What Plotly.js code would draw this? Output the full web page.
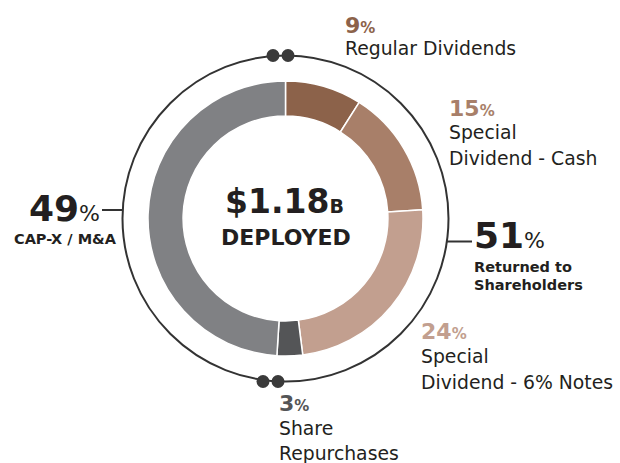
<!DOCTYPE html>
<html><head><meta charset="utf-8">
<script src="https://cdn.plot.ly/plotly-3.0.1.min.js"></script>
<style>html,body{margin:0;padding:0;background:#fff}</style>
</head><body><div id="chart" style="width:620px;height:463px"></div>
<script>
// ---- data ----
const categories = ["Regular Dividends", "Special Dividend - Cash", "Special Dividend - 6% Notes", "Share Repurchases", "CAP-X / M&A"];
const values = [9, 15, 24, 3, 49];
const labelLines = [["Regular Dividends"], ["Special", "Dividend - Cash"], ["Special", "Dividend - 6% Notes"], ["Share", "Repurchases"]];
const totalText = "$1.18";
const totalUnit = "B";
const centerWord = "DEPLOYED";
const groupLeftLabel = "CAP-X / M&A";
const groupRightLabel = ["Returned to", "Shareholders"];

// ---- styles ----
const sliceColors = ["#8c624a", "#a87f69", "#c29f8f", "#545557", "#808184"];
const W = 620, H = 463;
const FONT = "DejaVu Sans";
const ink = "#231f20";
const cx = 285.5, cy = 218.5, R = 137.5, outerR = 163;
const px = x => x / W, py = y => 1 - y / H;

const annotations = [];
function ann(text, x, baseline, size, xanchor, color) {
  annotations.push({
    text: text, xref: "paper", yref: "paper", x: px(x), y: py(baseline - 0.346 * size),
    xanchor: xanchor, yanchor: "middle", showarrow: false, borderpad: 0,
    font: {family: FONT, size: size, color: color || ink}
  });
}
function pctText(v, big, small, boldPct) {
  const p = boldPct ? "<b>%</b>" : "%";
  return "<b>" + v + "</b><span style='font-size:" + small + "px'>" + p + "</span>";
}

// center
ann("<b>" + totalText + "</b><span style='font-size:19px'><b>" + totalUnit + "</b></span>", 284, 213, 33, "center");
ann("<b>" + centerWord + "</b>", 285.5, 245, 22, "center");

// group totals
const returned = values.slice(0, 4).reduce((a, b) => a + b, 0);
const capx = values[4];
ann(pctText(capx, 36, 22, false), 101, 221, 36, "right");
ann("<b>" + groupLeftLabel + "</b>", 118, 244, 14.5, "right");
ann(pctText(returned, 36, 22, false), 473, 248, 36, "left");
ann("<b>" + groupRightLabel[0] + "</b>", 473, 272, 14.5, "left");
ann("<b>" + groupRightLabel[1] + "</b>", 473, 290, 14.5, "left");

// segment labels
const labelPos = [
  {x: 344, pct: 33, lines: [55]},
  {x: 448, pct: 116, lines: [139, 165]},
  {x: 420, pct: 339, lines: [363, 389]},
  {x: 278, pct: 411, lines: [435, 460]}
];
labelPos.forEach((p, i) => {
  ann(pctText(values[i], 22, 15, true), p.x, p.pct, 22, "left", sliceColors[i]);
  labelLines[i].forEach((t, j) => ann(t, p.x, p.lines[j], 18.8, "left", ink));
});

// ---- shapes ----
const lineCol = "#333333";
const shapes = [
  {type: "circle", xref: "paper", yref: "paper", x0: px(cx - outerR), x1: px(cx + outerR), y0: py(cy + outerR), y1: py(cy - outerR), line: {color: lineCol, width: 2}},
  {type: "line", xref: "paper", yref: "paper", x0: px(102), x1: px(123), y0: py(210), y1: py(210), line: {color: lineCol, width: 2}},
  {type: "line", xref: "paper", yref: "paper", x0: px(447), x1: px(472), y0: py(241.5), y1: py(241.5), line: {color: lineCol, width: 2}}
];
[[273, 55.5], [288, 55.5], [263, 381.5], [278, 381.5]].forEach(d => {
  const r = 6.5;
  shapes.push({type: "circle", xref: "paper", yref: "paper", x0: px(d[0] - r), x1: px(d[0] + r), y0: py(d[1] + r), y1: py(d[1] - r), fillcolor: "#3a3a3a", line: {color: "#3a3a3a", width: 0}});
});

const trace = {
  type: "pie", labels: categories, values: values, sort: false, direction: "clockwise", rotation: 0,
  hole: 0.745, textinfo: "none", hoverinfo: "none", showlegend: false,
  marker: {colors: sliceColors, line: {color: "#ffffff", width: 1.5}},
  domain: {x: [px(cx - R), px(cx + R)], y: [py(cy + R), py(cy - R)]}
};

Plotly.newPlot("chart", [trace], {
  width: W, height: H, margin: {l: 0, r: 0, t: 0, b: 0},
  paper_bgcolor: "#ffffff", plot_bgcolor: "#ffffff",
  annotations: annotations, shapes: shapes, showlegend: false
}, {displayModeBar: false, staticPlot: true});
</script></body></html>
